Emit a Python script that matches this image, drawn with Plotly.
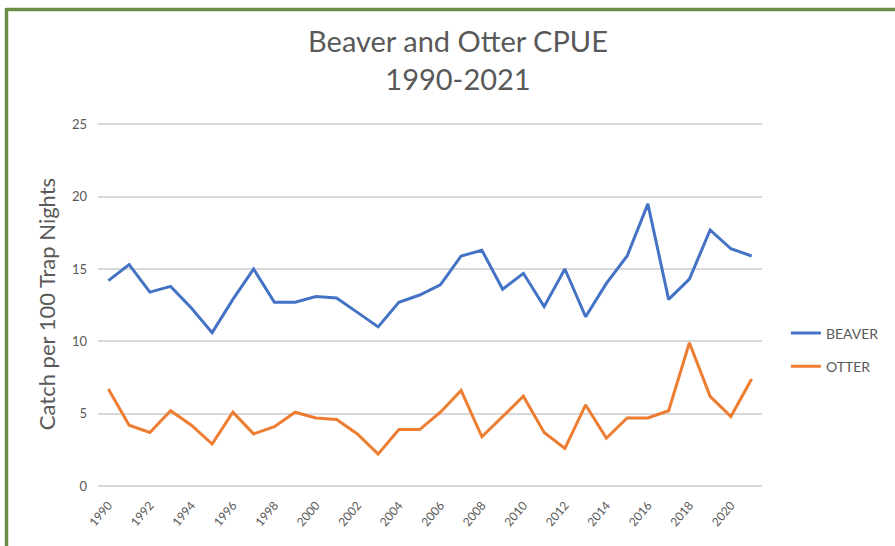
import plotly.graph_objects as go

# Catch per unit effort (catch per 100 trap nights), 1990-2021
years = list(range(1990, 2022))
beaver = [14.2, 15.3, 13.4, 13.8, 12.3, 10.6, 12.9, 15.0, 12.7, 12.7,
          13.1, 13.0, 12.0, 11.0, 12.7, 13.2, 13.9, 15.9, 16.3, 13.6,
          14.7, 12.4, 15.0, 11.7, 14.0, 15.9, 19.5, 12.9, 14.3, 17.7,
          16.4, 15.9]
otter = [6.7, 4.2, 3.7, 5.2, 4.2, 2.9, 5.1, 3.6, 4.1, 5.1,
         4.7, 4.6, 3.6, 2.2, 3.9, 3.9, 5.1, 6.6, 3.4, 4.8,
         6.2, 3.7, 2.6, 5.6, 3.3, 4.7, 4.7, 5.2, 9.9, 6.2,
         4.8, 7.4]
tick_years = list(range(1990, 2021, 2))
y_ticks = [0, 5, 10, 15, 20, 25]
x_range = [1989.5, 2021.5]

W, H = 895, 546
ML, MR, MT, MB = 98, 133, 120, 58
FONT = "Lato"
GREY = "#595959"
GRID = "#d9d9d9"

fig = go.Figure()
fig.add_trace(go.Scatter(x=years, y=beaver, mode="lines", name="BEAVER",
                         legendgroup="b",
                         line=dict(color="#4472C4", width=3)))
fig.add_trace(go.Scatter(x=years, y=otter, mode="lines", name="OTTER",
                         legendgroup="o",
                         line=dict(color="#ED7D31", width=3)))

fig.update_layout(
    width=W, height=H,
    margin=dict(l=ML, r=MR, t=MT, b=MB, autoexpand=False),
    paper_bgcolor="white", plot_bgcolor="white",
    font=dict(family=FONT, color=GREY),
    title=dict(text="Beaver and Otter CPUE<br>1990-2021",
               font=dict(family=FONT, size=29, color=GREY),
               x=458 / W, xref="container", xanchor="center",
               y=1 - 52 / H, yref="container", yanchor="middle"),
    showlegend=True,
    legend=dict(x=1.036, xanchor="left", y=0.375, yanchor="middle",
                font=dict(family=FONT, size=14, color=GREY),
                bgcolor="rgba(0,0,0,0)", tracegroupgap=12,
                itemwidth=30),
    xaxis=dict(range=x_range, tickmode="array",
               tickvals=tick_years, ticktext=[str(y) for y in tick_years],
               tickangle=-50, tickfont=dict(family=FONT, size=12, color=GREY),
               ticklabelstandoff=7,
               showgrid=False, zeroline=False, showline=False,
               ticks="", ticklen=0),
    yaxis=dict(range=[-0.14, 25.3], tickmode="array", tickvals=y_ticks,
               tickfont=dict(family=FONT, size=13, color=GREY),
               ticklabelstandoff=10,
               showgrid=True, gridcolor=GRID, gridwidth=1.5,
               zeroline=False, showline=False, ticks="",
               title=dict(text="Catch per 100 Trap Nights",
                          font=dict(family=FONT, size=22, color=GREY),
                          standoff=10)),
)

# horizontal category axis line at zero, drawn inside the plot area
fig.add_shape(type="line", xref="x", yref="y", x0=x_range[0], x1=x_range[1],
              y0=0, y1=0, layer="below", line=dict(color=GRID, width=1.5))

# green frame along the top and left edges of the page
pw, ph = W - ML - MR, H - MT - MB
def px_x(p):
    return (p - ML) / pw
def px_y(p):
    return (H - MB - p) / ph

frame = dict(type="line", xref="paper", yref="paper",
             line=dict(color="#6B8E45", width=3.5))
fig.add_shape(**frame, x0=px_x(6.5), x1=px_x(W + 5), y0=px_y(9.5), y1=px_y(9.5))
fig.add_shape(**frame, x0=px_x(6.5), x1=px_x(6.5), y0=px_y(8), y1=px_y(H + 5))

fig.write_html("out.html")
